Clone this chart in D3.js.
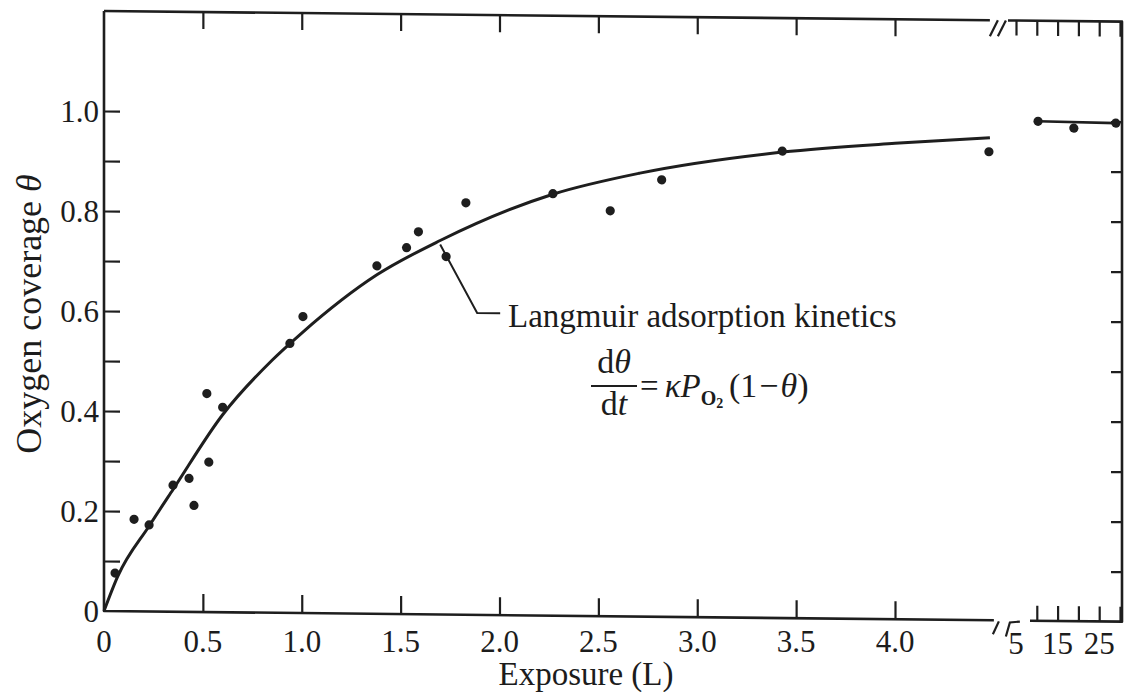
<!DOCTYPE html>
<html>
<head>
<meta charset="utf-8">
<script src="https://cdn.jsdelivr.net/npm/d3@7"></script>
<style>
    body { margin: 0; background: #fff; }
    svg { display: block; }
    text { font-family: "Liberation Serif", "Times New Roman", serif; fill: #1c1c1c; }
</style>
</head>
<body>
<svg id="chart" width="1124" height="692"></svg>
<script>
// measured points, exposure in langmuir (L)
var exposure = [0.056, 0.152, 0.228, 0.349, 0.43, 0.455, 0.52, 0.53, 0.60, 0.94, 1.006,
    1.38, 1.53, 1.59, 1.73, 1.83, 2.27, 2.56, 2.82, 3.43, 4.475];
var coverage = [0.076, 0.184, 0.173, 0.253, 0.267, 0.213, 0.437, 0.30, 0.41, 0.539, 0.593,
    0.696, 0.733, 0.765, 0.716, 0.824, 0.844, 0.811, 0.874, 0.934, 0.937];

// points past the axis break (5 - 30 L)
var longExposure = [10.3, 18.9, 29.0];
var longCoverage = [0.999, 0.986, 0.997];

// Langmuir kinetics curve
var fitExposure = [0, 0.07, 0.23, 0.35, 0.6, 0.85, 1.0, 1.38, 1.7, 2.27, 2.71, 3.43, 4.0, 4.48];
var fitCoverage = [0, 0.07, 0.172, 0.245, 0.395, 0.505, 0.56, 0.678, 0.748, 0.843, 0.887, 0.932, 0.952, 0.965];

var xTicks = [0.5, 1.0, 1.5, 2.0, 2.5, 3.0, 3.5, 4.0];
var xTickLabels = ['0', '0.5', '1.0', '1.5', '2.0', '2.5', '3.0', '3.5', '4.0'];
var xLabelValues = [0, 0.5, 1.0, 1.5, 2.0, 2.5, 3.0, 3.5, 4.0];
var yTicks = [0.1, 0.2, 0.3, 0.4, 0.5, 0.6, 0.7, 0.8, 0.9, 1.0];
var yLabelValues = [0, 0.2, 0.4, 0.6, 0.8, 1.0];
var yTickLabels = ['0', '0.2', '0.4', '0.6', '0.8', '1.0'];
var longTopTicks = [5, 10, 15, 20, 25, 30];
var longBottomTicks = [10, 15, 20, 25, 30];
var longLabelValues = [5, 15, 25];

(function () {
    var INK = '#1e1e1e';
    var svg = d3.select('#chart');

    var x = d3.scaleLinear().domain([0, 4]).range([104, 895]);
    var xR = d3.scaleLinear().domain([5, 30]).range([1016, 1120]);
    var y = d3.scaleLinear().domain([0, 1.2]).range([611, 11]);

    var x0 = x(0), yBottom = y(0), yTop = y(1.2), xRight = 1122;
    var breakX = x(4.5);

    // the scanned figure is slightly sheared, so the frame and marks lean with it
    var plot = svg.append('g')
        .attr('transform', 'translate(' + x0 + ',0) skewY(0.6) translate(' + (-x0) + ',0)');

    var frame = [
        [[x0, yTop], [x0, yBottom], [breakX, yBottom]],
        [[x0, yTop], [breakX - 4, yTop]],
        [[1008, yTop], [xRight, yTop], [xRight, yBottom], [1030, yBottom]]
    ];
    plot.selectAll('path.frame')
        .data(frame)
        .enter().append('path')
        .attr('class', 'frame')
        .attr('d', function (d) { return d3.line()(d); })
        .attr('fill', 'none')
        .attr('stroke', INK)
        .attr('stroke-width', 2.6)
        .attr('stroke-linejoin', 'round');

    // break marks on both axes
    var breaks = [
        [[breakX - 4, yTop + 16], [breakX + 4, yTop]],
        [[breakX + 4, yTop + 16], [breakX + 12, yTop]],
        [[breakX - 1, yBottom + 14], [breakX + 5, yBottom + 1]],
        [[breakX + 12, yBottom + 16], [breakX + 16, yBottom + 2], [breakX + 26, yBottom + 1]]
    ];
    plot.selectAll('path.break')
        .data(breaks)
        .enter().append('path')
        .attr('class', 'break')
        .attr('d', function (d) { return d3.line()(d); })
        .attr('fill', 'none')
        .attr('stroke', INK)
        .attr('stroke-width', 2.2);

    /**
     * Inward pointing ticks, no domain line and no labels
     */
    function ticks(axis, tx, ty) {
        var g = plot.append('g')
            .attr('transform', 'translate(' + tx + ',' + ty + ')')
            .call(axis.tickFormat('').tickSizeOuter(0));
        g.select('.domain').remove();
        g.selectAll('.tick line').attr('stroke', INK).attr('stroke-width', 2.2);
        return g;
    }

    ticks(d3.axisBottom(x).tickValues(xTicks).tickSize(-18), 0, yBottom);
    ticks(d3.axisTop(x).tickValues(xTicks).tickSize(-17), 0, yTop);
    ticks(d3.axisLeft(y).tickValues(yTicks).tickSize(-16), x0, 0);
    ticks(d3.axisRight(y).tickValues(yTicks).tickSize(-11), xRight, 0);
    ticks(d3.axisTop(xR).tickValues(longTopTicks).tickSize(-15), 0, yTop);
    ticks(d3.axisBottom(xR).tickValues(longBottomTicks).tickSize(-15), 0, yBottom);

    // fitted curve
    plot.append('path')
        .datum(d3.zip(fitExposure, fitCoverage))
        .attr('d', d3.line()
            .x(function (d) { return x(d[0]); })
            .y(function (d) { return y(d[1]); })
            .curve(d3.curveMonotoneX))
        .attr('fill', 'none')
        .attr('stroke', INK)
        .attr('stroke-width', 3);

    plot.selectAll('circle.point')
        .data(d3.zip(exposure, coverage))
        .enter().append('circle')
        .attr('class', 'point')
        .attr('cx', function (d) { return x(d[0]); })
        .attr('cy', function (d) { return y(d[1]); })
        .attr('r', 4.6)
        .attr('fill', INK);

    // long exposure points joined by a flat line
    var longPts = d3.zip(longExposure, longCoverage);
    plot.append('path')
        .datum([longPts[0], longPts[longPts.length - 1]])
        .attr('d', d3.line()
            .x(function (d) { return xR(d[0]); })
            .y(function (d) { return y(d[1]); }))
        .attr('stroke', INK)
        .attr('stroke-width', 2.6);
    plot.selectAll('circle.long')
        .data(longPts)
        .enter().append('circle')
        .attr('class', 'long')
        .attr('cx', function (d) { return xR(d[0]); })
        .attr('cy', function (d) { return y(d[1]); })
        .attr('r', 4.6)
        .attr('fill', INK);

    // leader from the curve to the annotation
    var ax = x(fitExposure[8]), ay = y(fitCoverage[8]) + 4;
    plot.append('path')
        .attr('d', d3.line()([[ax, ay], [ax + 37, ay + 68], [ax + 60, ay + 68]]))
        .attr('fill', 'none')
        .attr('stroke', INK)
        .attr('stroke-width', 2);

    // tick labels (these sit level in the scan)
    svg.selectAll('text.xlab')
        .data(xLabelValues)
        .enter().append('text')
        .attr('class', 'xlab')
        .attr('x', function (d) { return x(d); })
        .attr('y', 652)
        .attr('text-anchor', 'middle')
        .attr('font-size', 31)
        .text(function (d, i) { return xTickLabels[i]; });

    svg.selectAll('text.rlab')
        .data(longLabelValues)
        .enter().append('text')
        .attr('class', 'rlab')
        .attr('x', function (d) { return xR(d); })
        .attr('y', 654)
        .attr('text-anchor', 'middle')
        .attr('font-size', 31)
        .text(function (d) { return d; });

    svg.selectAll('text.ylab')
        .data(yLabelValues)
        .enter().append('text')
        .attr('class', 'ylab')
        .attr('x', 99)
        .attr('y', function (d) { return y(d); })
        .attr('dy', '0.35em')
        .attr('text-anchor', 'end')
        .attr('font-size', 31)
        .text(function (d, i) { return yTickLabels[i]; });

    svg.append('text')
        .attr('x', 586)
        .attr('y', 685)
        .attr('text-anchor', 'middle')
        .attr('font-size', 33)
        .text('Exposure (L)');

    var yTitle = svg.append('text')
        .attr('transform', 'translate(41,314) rotate(-90)')
        .attr('text-anchor', 'middle')
        .attr('font-size', 36);
    yTitle.append('tspan').text('Oxygen coverage ');
    yTitle.append('tspan').attr('font-style', 'italic').text('θ');

    // annotation text and rate law
    svg.append('text')
        .attr('x', 508)
        .attr('y', 327)
        .attr('font-size', 33)
        .text('Langmuir adsorption kinetics');

    svg.append('text').attr('x', 614).attr('y', 373).attr('text-anchor', 'middle').attr('font-size', 34)
        .html('d<tspan font-style="italic">θ</tspan>');
    svg.append('line').attr('x1', 591).attr('x2', 637).attr('y1', 386).attr('y2', 386)
        .attr('stroke', INK).attr('stroke-width', 1.8);
    svg.append('text').attr('x', 614).attr('y', 415).attr('text-anchor', 'middle').attr('font-size', 34)
        .html('d<tspan font-style="italic">t</tspan>');

    var law = svg.append('text').attr('x', 640).attr('y', 397).attr('font-size', 33);
    law.append('tspan').text('=');
    law.append('tspan').attr('dx', 6).attr('font-style', 'italic').text('κP');
    law.append('tspan').attr('font-size', 20).attr('dy', 8).attr('font-weight', 'bold').text('O');
    law.append('tspan').attr('font-size', 14).attr('dy', 3).attr('font-weight', 'bold').text('2');

    var paren = svg.append('text').attr('x', 729).attr('y', 397).attr('font-size', 34);
    paren.append('tspan').text('(1');
    paren.append('tspan').attr('dx', 2).text('−');
    paren.append('tspan').attr('dx', 2).attr('font-style', 'italic').text('θ');
    paren.append('tspan').text(')');
})();
</script>
</body>
</html>
